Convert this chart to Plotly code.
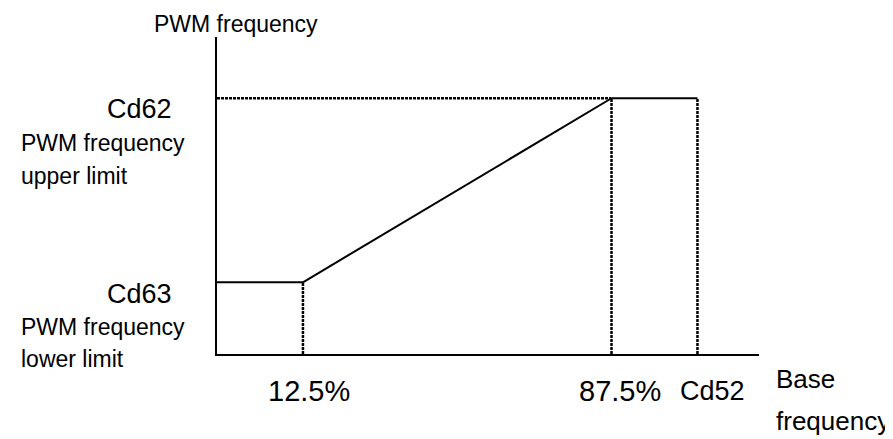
import plotly.graph_objects as go

# ---- data (schematic diagram units) ----
x_tick_labels = ["12.5%", "87.5%", "Cd52"]
x_tick_pos = [1.0, 4.59, 5.59]       # schematic positions along base frequency axis
x_axis_end = 6.306
y_level_names = ["Cd63", "Cd62"]
y_level_desc = [["PWM frequency", "lower limit"], ["PWM frequency", "upper limit"]]
y_levels = [1.0, 3.566]              # lower limit, upper limit
y_axis_end = 4.42
x_axis_title = ["Base", "frequency"]
y_axis_title = "PWM frequency"

x12, x87, xcd = x_tick_pos
ylo, yhi = y_levels

W, H = 893, 439
OFF = 8  # page body margin of the html page
# plot area in page pixels
L, R, T, B = 216.7, 759, 37, 354

FONT = "Liberation Sans, Arial, sans-serif"

def px(xp):
    return (xp - L) / (R - L)

def py(yp):
    return (B - yp) / (B - T)

fig = go.Figure()

dot = "3px,1px"

def seg(xs, ys, dash="solid", width=2):
    fig.add_trace(go.Scatter(x=xs, y=ys, mode="lines",
                             line=dict(color="black", width=width, dash=dash),
                             hoverinfo="skip", showlegend=False))

# upper limit: dotted up to 87.5%, solid to Cd52
seg([0, x87], [yhi, yhi], dot, 2.5)
seg([x87, xcd], [yhi, yhi])
# lower limit plateau
seg([0, x12], [ylo, ylo])
# ramp
seg([x12, x87], [ylo, yhi])
# vertical guides
seg([x12, x12], [0, ylo], dot, 2.5)
seg([x87, x87], [0, yhi], dot, 2.5)
seg([xcd, xcd], [0, yhi], dot, 2.5)

ann = []
def text(t, x, y, size, xanchor="center", yanchor="middle"):
    ann.append(dict(text=t, x=px(x), y=py(y), xref="paper", yref="paper",
                    showarrow=False, xanchor=xanchor, yanchor=yanchor,
                    font=dict(family=FONT, size=size, color="black")))

# y-axis title
text(y_axis_title, 152, 24, 23, xanchor="left")
# level labels
text(y_level_names[1], 174, 109, 27, xanchor="right")
text(y_level_desc[1][0], 19, 142.5, 23, xanchor="left")
text(y_level_desc[1][1], 19, 176, 23, xanchor="left")
text(y_level_names[0], 174, 294, 27, xanchor="right")
text(y_level_desc[0][0], 19, 327, 23, xanchor="left")
text(y_level_desc[0][1], 19, 359.5, 23, xanchor="left")
# x tick labels
text(x_tick_labels[0], 309, 391, 29)
text(x_tick_labels[1], 620, 391, 29)
text(x_tick_labels[2], 712, 391, 27)
# x-axis title
text(x_axis_title[0], 774, 379, 26, xanchor="left")
text(x_axis_title[1], 774, 421, 26, xanchor="left")

fig.update_layout(
    width=W, height=H,
    margin=dict(l=L - OFF, r=W - (R - OFF), t=T - OFF, b=H - (B - OFF), pad=0),
    paper_bgcolor="white", plot_bgcolor="white",
    xaxis=dict(range=[0, x_axis_end], showgrid=False, zeroline=False,
               showticklabels=False, ticks="", showline=True,
               linecolor="black", linewidth=2, mirror=False, fixedrange=True),
    yaxis=dict(range=[0, y_axis_end], showgrid=False, zeroline=False,
               showticklabels=False, ticks="", showline=True,
               linecolor="black", linewidth=2, mirror=False, fixedrange=True),
    annotations=ann,
    showlegend=False,
)

fig.write_html("out.html", config={"displayModeBar": False})
